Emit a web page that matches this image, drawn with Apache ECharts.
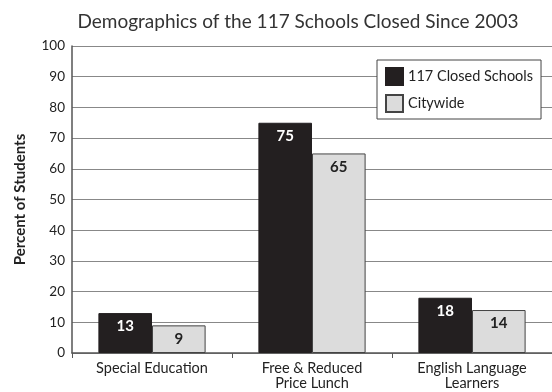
<!DOCTYPE html>
<html><head><meta charset="utf-8">
<script src="https://cdn.jsdelivr.net/npm/echarts@6/dist/echarts.min.js"></script>
<style>html,body{margin:0;padding:0;background:#fff}#c{width:552px;height:392px}</style>
</head><body><div id="c"></div>
<script>
const categories = ['Special Education', 'Free & Reduced\nPrice Lunch', 'English Language\nLearners'];
const closedSchools = [13, 75, 18];
const citywide = [9, 65, 14];
const seriesNames = ['117 Closed Schools', 'Citywide'];
const titleText = 'Demographics of the 117 Schools Closed Since 2003';
const yAxisName = 'Percent of Students';

const chart = echarts.init(document.getElementById('c'), null, {renderer: 'canvas'});
const font = 'Lato, "Open Sans", sans-serif';
chart.setOption({
  animation: false,
  textStyle: {fontFamily: font},
  title: {text: titleText, left: 293, textAlign: 'center', top: 7,
    textStyle: {fontFamily: font, fontSize: 19, fontWeight: 'normal', color: '#333'}},
  legend: {
    orient: 'vertical', left: 377, top: 60, itemWidth: 17, itemHeight: 17, itemGap: 8, icon: 'rect',
    padding: [7, 8, 6, 8], borderColor: '#444', borderWidth: 1, backgroundColor: '#fff',
    textStyle: {fontFamily: font, fontSize: 14.5, color: '#222'},
    data: seriesNames
  },
  grid: {left: 72, right: -3, top: 46, bottom: 39},
  xAxis: {
    type: 'category', data: categories,
    axisLine: {lineStyle: {color: '#555', width: 1.5}},
    axisTick: {show: true, length: 5, lineStyle: {color: '#555'}},
    axisLabel: {fontFamily: font, fontSize: 14.5, color: '#222', lineHeight: 15, margin: 8}
  },
  yAxis: {
    type: 'value', min: 0, max: 100, interval: 10,
    name: yAxisName, nameLocation: 'middle', nameGap: 44,
    nameTextStyle: {fontFamily: font, fontSize: 15, fontWeight: 'bold', color: '#222'},
    axisLine: {show: true, lineStyle: {color: '#555', width: 1.5}},
    axisTick: {show: false},
    splitLine: {lineStyle: {color: '#888', width: 1}},
    axisLabel: {fontFamily: font, fontSize: 13.5, color: '#222', margin: 7}
  },
  series: [
    {name: seriesNames[0], type: 'bar', data: closedSchools, barGap: '0%', barCategoryGap: '33%',
      itemStyle: {color: '#231f20', borderColor: '#231f20', borderWidth: 1},
      label: {show: true, position: 'insideTop', distance: 6, color: '#fff', fontWeight: 'bold', fontSize: 15, fontFamily: font}},
    {name: seriesNames[1], type: 'bar', data: citywide,
      itemStyle: {color: '#dcdcdc', borderColor: '#444', borderWidth: 1},
      label: {show: true, position: 'insideTop', distance: 6, color: '#222', fontWeight: 'bold', fontSize: 15, fontFamily: font}}
  ]
});
</script></body></html>
